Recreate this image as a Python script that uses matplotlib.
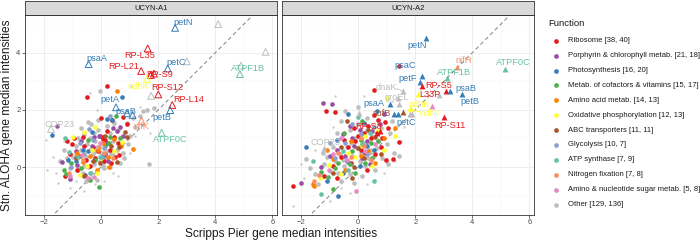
import matplotlib.pyplot as plt
from matplotlib.lines import Line2D

plt.rcParams["font.family"] = ["Liberation Sans", "DejaVu Sans"]

functions = ["Ribosome", "Porphyrin & chlorophyll metab.", "Photosynthesis",
             "Metab. of cofactors & vitamins", "Amino acid metab.",
             "Oxidative phosphorylation", "ABC transporters", "Glycolysis",
             "ATP synthase", "Nitrogen fixation", "Amino & nucleotide sugar metab.",
             "Other"]
counts_a1 = [38, 21, 16, 15, 14, 12, 11, 10, 7, 7, 5, 129]
counts_a2 = [40, 18, 20, 17, 13, 13, 11, 7, 9, 8, 8, 136]
colors = ["#E41A1C", "#984EA3", "#377EB8", "#4DAF4A", "#FF7F00", "#FFFF33",
          "#A65628", "#8DA0CB", "#66C2A5", "#FC8D62", "#E78AC3", "#BEBEBE"]

# ---- UCYN-A1 gene points (x = Scripps Pier, y = Stn. ALOHA) ----
a1_ribosome = [(0.2, 2.83), (-0.49, 2.44), (0.0, 1.70), (-0.94, 1.01), (-1.04, 0.80),
               (-1.28, -0.30), (0.08, 1.04), (0.14, 0.94), (0.44, 1.04), (0.50, 0.35),
               (0.64, 0.42), (0.78, 1.76), (0.37, 1.64), (-0.76, 0.40), (-0.65, 1.04),
               (0.22, 1.27), (-0.38, 0.05), (-0.10, 0.55), (0.05, 0.98), (-0.30, 0.70),
               (-0.55, 0.25), (0.30, 0.60), (-1.10, 0.45), (-0.85, -0.10), (0.10, 0.20),
               (-0.20, 0.30), (0.60, 0.85), (0.92, 1.50), (-0.60, 0.75), (0.35, 0.15),
               (-0.05, 1.10), (-1.2, 0.9)]
a1_porphyrin = [(-1.55, 1.45), (-1.38, 0.16), (-0.08, 1.08), (0.2, 0.85), (0.66, 1.41),
                (-0.85, 0.06), (0.43, 1.38), (-0.33, 0.72), (-0.58, -0.28), (-1.08, -0.42),
                (0.15, 0.45), (-0.9, 0.55), (0.55, 1.25), (-0.25, 1.05), (0.25, 0.2),
                (-0.7, 0.9), (0.75, 1.1)]
a1_photo = [(0.73, 2.46), (-1.72, 1.12), (0.2, 1.68), (0.38, 1.64), (-1.15, 0.24),
            (-0.64, 0.59), (-0.33, 1.24), (-0.48, 0.57), (0.05, 0.40), (-0.9, 0.2)]
a1_cofactors = [(0.52, 1.78), (0.28, 0.83), (-0.09, -0.69), (-0.38, -0.45), (-1.29, -0.10),
                (0.32, 1.05), (-0.2, 0.25), (-1.25, -0.25), (-0.7, -0.05), (0.12, 0.72),
                (-0.45, 0.95), (0.65, 1.0), (-1.05, 0.15)]
a1_amino = [(0.54, 2.67), (1.13, 0.62), (0.26, 0.01), (0.45, 0.99), (-0.64, 0.19),
            (-0.1, 0.6), (0.25, 0.35), (-0.4, 0.4), (-0.85, 0.5), (0.05, 0.85),
            (0.7, 0.75), (-0.15, -0.1)]
a1_oxphos = [(-0.99, 1.06), (-0.21, 1.41), (-0.76, -0.28), (-0.33, 0.59), (0.72, 0.89),
             (-0.15, -0.20), (-0.62, 1.24), (0.0, 0.30), (-0.5, 0.05), (0.45, 0.55)]
a1_abc = [(0.83, 1.24), (0.55, 0.19), (0.61, 0.71), (-0.03, 0.13), (-0.62, -0.31),
          (0.9, 1.05), (-0.28, 0.2), (0.35, 0.75), (-0.9, 0.3), (0.15, 1.1)]
a1_glyco = [(-0.44, 1.32), (0.02, 0.36), (-0.73, 0.83), (0.32, 1.78), (0.1, 0.65),
            (-0.27, 0.95), (-0.6, 0.45), (-1.05, 0.0)]
a1_atp = [(-1.26, 1.0), (-1.14, 0.54), (-0.83, 0.36), (-0.03, 0.36), (-0.4, -0.2)]
a1_nfix = [(-1.14, -0.22), (-0.64, 0.24), (0.1, 0.48), (-0.07, 0.69), (0.4, 0.3)]
a1_sugar = [(-0.48, -0.37), (-1.08, -0.31), (-0.03, 0.85), (-0.67, 0.41), (-0.25, -0.35)]
a1_other = [(-0.03, 2.67), (-0.48, 1.59), (1.68, 0.09), (1.85, 2.05), (1.35, 1.77),
            (1.10, 1.70), (0.9, 1.55), (-0.35, 1.5), (-0.1, 1.3), (0.3, 1.2),
            (-0.6, 1.15), (-0.8, 1.0), (-0.2, 0.9), (0.1, 0.8), (0.4, 0.9),
            (-0.5, 0.8), (-0.4, 0.6), (-0.15, 0.7), (0.2, 0.55), (-0.7, 0.6),
            (-0.3, 0.45), (0.0, 0.5), (-0.05, 0.2), (-0.55, 0.35), (-0.9, 0.75),
            (0.55, 0.6), (0.75, 0.5), (-0.25, 0.1), (-0.45, 0.0), (-0.8, -0.1),
            (-1.0, 0.35), (-1.3, 0.6), (-1.45, 0.2), (-0.35, -0.2), (0.1, -0.05),
            (0.35, 0.45), (0.6, 1.3), (1.0, 1.1), (1.2, 1.4), (0.8, 0.3),
            (-0.65, -0.2), (-1.1, -0.05), (-0.15, -0.45), (-0.55, -0.5), (0.2, 1.45),
            (-0.1, 1.65), (0.45, 1.55), (-0.7, 1.35), (-0.25, 1.2), (0.05, 0.05),
            (-0.9, 0.45), (0.3, 0.0), (-0.4, 1.0), (0.65, 0.15), (-1.2, 0.3),
            (0.15, 0.3), (-0.6, 0.05), (0.95, 0.8), (1.45, 1.95), (1.6, 2.0),
            (-0.2, 0.55)]
a1_small = [(-1.9, -0.1), (-1.95, 0.95), (-1.5, -0.55), (-1.1, -0.75), (-0.6, -0.85),
            (0.6, -0.3), (1.0, 0.5), (1.2, 1.1), (1.5, 1.5), (-0.4, 2.6), (1.35, 2.1),
            (0.85, 1.9), (-1.3, 0.9), (-0.2, -0.6), (-1.7, 0.35), (0.4, -0.2),
            (-0.9, -0.5), (1.7, 1.2), (0.1, -0.5), (-1.6, -0.2), (-0.15, 2.0),
            (1.05, 2.85)]

# highlighted genes: (name, function index, x, y)
a1_genes = [("petN", 2, 2.59, 4.87), ("", 11, 4.10, 5.0), ("", 11, 5.76, 4.03),
            ("RP-L35", 0, 1.63, 4.15), ("psaA", 2, -0.44, 3.6), ("petC", 2, 2.33, 3.45),
            ("", 11, 3.0, 3.7), ("", 11, 4.9, 3.55), ("ATPF1B", 8, 4.86, 3.25),
            ("RP-L21", 0, 1.40, 3.36), ("RP-S9", 0, 1.74, 3.22), ("", 0, 1.85, 3.27),
            ("ndhK", 5, 1.6, 3.08), ("RP-S12", 0, 2.0, 2.54), ("", 11, 1.75, 2.49),
            ("RP-L14", 0, 2.49, 2.17), ("petB", 2, 2.42, 1.99), ("petA", 2, 0.52, 2.09),
            ("psaB", 2, 1.1, 1.82), ("", 2, 0.9, 1.88), ("nifK", 9, 1.41, 1.62),
            ("ATPF0C", 8, 2.12, 1.2), ("COP23", 11, -1.76, 1.33)]

# ---- UCYN-A2 gene points ----
a2_ribosome = [(0.55, 2.69), (1.43, 3.54), (-1.13, 1.96), (-2.27, -0.66), (0.96, 0.24),
               (1.21, 0.27), (1.43, 0.86), (-0.80, 1.93), (0.54, 1.82), (0.71, 1.64),
               (0.94, 1.58), (1.06, 1.38), (0.35, 1.45), (0.2, 1.2), (-0.1, 0.9),
               (-0.35, 0.7), (0.1, 0.6), (0.45, 1.0), (0.65, 1.2), (-0.6, 0.35),
               (-0.9, 0.05), (-0.25, 0.15), (0.25, 0.5), (-1.2, -0.3), (0.8, 0.7),
               (0.3, -0.1), (0.0, 1.1), (-0.5, 0.95), (0.6, 0.45), (-0.15, 1.35),
               (0.85, 1.0), (-0.75, -0.4)]
a2_porphyrin = [(-1.25, 2.25), (-0.92, 2.22), (-0.55, 1.15), (-0.3, 1.45), (0.05, 1.3),
                (0.3, 0.9), (-0.75, 0.6), (-1.0, 0.4), (0.15, 0.3), (-0.45, 0.4),
                (0.5, 1.25), (0.75, 1.5), (-0.15, 0.75), (-1.3, 0.0), (0.4, 0.1),
                (-2.0, -0.55), (-0.2, 1.0), (0.9, 1.85)]
a2_photo = [(-1.83, 0.71), (-0.70, -1.01), (-0.35, 1.85), (0.2, 1.55), (-0.4, 0.2),
            (-1.1, -0.5), (0.55, 0.6), (0.05, 0.05), (-0.75, 0.95), (0.3, 0.75),
            (-0.55, -0.2), (0.65, 1.95)]
a2_cofactors = [(-1.29, -0.19), (-0.87, -0.76), (-0.5, 1.2), (-0.2, 0.55), (0.1, 0.95),
                (0.45, 0.85), (-0.7, 0.15), (-1.05, -0.35), (0.25, 0.15), (-0.3, 0.1),
                (0.7, 0.9), (-0.1, -0.2), (0.5, 0.3), (-0.8, -0.05), (0.15, 1.6)]
a2_amino = [(-1.56, -0.66), (-1.58, -0.58), (-0.9, 0.27), (-0.25, 0.9), (0.35, 0.55),
            (0.9, 1.0), (1.28, 1.35), (-0.45, -0.1), (0.1, 0.4), (0.6, 0.15),
            (-1.1, 0.6)]
a2_oxphos = [(-1.02, 0.07), (1.01, 2.42), (0.7, 1.3), (1.28, 1.1), (-0.35, 0.5),
             (0.05, 0.75), (-1.35, -0.4), (0.25, 1.1), (-0.6, -0.25), (0.5, 0.05),
             (-0.1, 0.35), (0.9, 0.6)]
a2_abc = [(-0.15, 0.0), (0.35, 1.3), (0.0, 0.65), (-0.6, 0.7), (0.6, 1.05),
          (-0.9, -0.2), (0.2, 0.3), (-0.4, 1.6), (0.8, 0.45), (-0.2, -0.4)]
a2_glyco = [(-0.45, 0.85), (0.1, 1.15), (-0.8, 0.3), (0.3, 0.45), (-0.2, 1.5),
            (0.55, 1.4), (-1.0, 0.85)]
a2_atp = [(0.54, -0.49), (-1.29, -0.94), (-0.55, 0.55), (0.15, 0.8), (-0.35, -0.1),
          (0.4, 1.2), (-1.6, 0.2), (0.0, 1.75)]
a2_nfix = [(-1.38, -0.28), (-0.7, 0.5), (0.2, 0.75), (-0.25, 0.35), (0.45, 0.25),
           (-1.55, -0.5), (0.1, 1.0)]
a2_sugar = [(-0.08, -0.85), (-1.04, -0.1), (-0.4, 0.25), (0.25, 0.55), (-0.6, 1.0),
            (0.6, 0.8), (-0.9, 0.45)]
a2_other = [(-1.82, 0.27), (1.43, 0.38), (-0.6, 1.6), (-0.3, 1.3), (0.0, 1.5),
            (0.3, 1.7), (-0.1, 1.0), (0.2, 0.85), (0.4, 0.6), (0.7, 0.9),
            (-0.4, 0.7), (-0.65, 0.45), (-0.2, 0.4), (0.05, 0.2), (-0.5, 0.05),
            (-0.8, 0.2), (-1.0, -0.15), (-1.2, 0.1), (-0.3, -0.25), (0.25, 0.05),
            (0.55, 0.4), (0.85, 0.3), (1.0, 0.8), (-0.9, 0.7), (-1.1, 0.35),
            (-1.5, -0.25), (-1.4, -0.6), (-0.6, -0.5), (0.15, -0.3), (-0.05, 0.65),
            (0.35, 0.3), (-0.25, 0.85), (0.5, 1.1), (0.8, 1.35), (1.1, 1.2),
            (-0.75, 1.2), (-0.45, 1.95), (0.0, 2.1), (1.25, 0.5), (0.6, -0.1),
            (-0.15, -0.55), (-1.25, 0.5), (-0.7, -0.2), (0.9, 1.9), (1.05, 0.1),
            (1.2, 1.6), (-1.7, -0.05), (0.3, 1.3), (-0.35, 0.15), (0.1, 0.5),
            (-0.55, 0.25), (0.65, 0.65)]
a2_small = [(-2.27, -1.35), (-0.8, 2.48), (-1.9, -0.4), (-1.0, -1.2), (-0.3, -0.9),
            (0.3, -0.6), (0.9, -0.2), (1.3, 0.2), (1.6, 1.4), (1.2, 2.3), (0.2, 2.5),
            (-0.9, 1.4), (-1.5, 0.6), (-2.0, 0.1), (0.6, -0.45), (1.5, 0.9),
            (-0.6, -0.75)]

a2_genes = [("petN", 2, 2.37, 4.52), ("nifH", 9, 3.46, 3.49), ("ATPF0C", 8, 5.14, 3.43),
            ("ATPF1B", 8, 3.10, 3.12), ("psaC", 2, 2.25, 3.18), ("petF", 2, 2.18, 2.98),
            ("RP-S5", 0, 2.24, 2.82), ("L33P", 0, 3.07, 2.65), ("petB", 2, 3.2, 2.66),
            ("psaB", 2, 3.64, 2.55), ("", 11, 2.83, 2.51), ("", 5, 2.10, 2.55),
            ("dnaK", 11, 1.57, 2.66), ("groEL", 11, 1.41, 2.40), ("psaA", 2, 1.13, 2.20),
            ("", 11, 1.43, 2.19), ("", 10, 2.59, 2.14), ("ndhK", 5, 1.81, 2.05),
            ("ndhF", 5, 1.85, 2.02), ("RP-S11", 0, 3.0, 1.76), ("petC", 2, 1.41, 1.84),
            ("", 2, 1.26, 1.84), ("sufB", 6, 1.57, 1.91), ("", 11, 0.03, 1.9),
            ("", 11, 1.8, 1.87), ("", 11, 1.9, 1.85), ("RP-S8", 0, 0.65, 1.19),
            ("", 0, 0.75, 1.25), ("COP23", 11, -1.21, 0.65)]

a1_points = [a1_ribosome, a1_porphyrin, a1_photo, a1_cofactors, a1_amino, a1_oxphos,
             a1_abc, a1_glyco, a1_atp, a1_nfix, a1_sugar, a1_other]
a2_points = [a2_ribosome, a2_porphyrin, a2_photo, a2_cofactors, a2_amino, a2_oxphos,
             a2_abc, a2_glyco, a2_atp, a2_nfix, a2_sugar, a2_other]

# label text centres
a1_label_pos = {"petN": (2.88, 5.06), "RP-L35": (1.34, 3.92), "psaA": (-0.15, 3.80),
                "petC": (2.61, 3.67), "ATPF1B": (5.15, 3.45), "RP-L21": (0.80, 3.51),
                "RP-S9": (2.06, 3.24), "ndhK": (1.31, 2.81), "RP-S12": (2.30, 2.77),
                "RP-L14": (3.08, 2.37), "petB": (2.12, 1.74), "petA": (0.31, 2.38),
                "psaB": (0.86, 1.96), "nifK": (1.42, 1.41), "ATPF0C": (2.41, 0.97),
                "COP23": (-1.46, 1.50)}
a2_label_pos = {"petN": (2.06, 4.27), "nifH": (3.69, 3.72), "ATPF0C": (5.44, 3.65),
                "ATPF1B": (3.36, 3.30), "psaC": (1.63, 3.57), "petF": (1.75, 3.10),
                "RP-S5": (2.83, 2.87), "L33P": (2.51, 2.55), "psaB": (3.79, 2.75),
                "petB": (3.93, 2.28), "dnaK": (0.99, 2.79), "groEL": (1.36, 2.43),
                "psaA": (0.55, 2.23), "ndhK": (2.14, 2.20), "ndhF": (2.51, 1.88),
                "sufB": (0.82, 1.88), "petC": (1.69, 1.55), "RP-S11": (3.2, 1.47),
                "RP-S8": (0.35, 1.41), "COP23": (-1.15, 0.86)}
a2_leaders = {"dnaK": (1.34, 2.74), "ndhF": (2.18, 1.92)}

W, H = 700, 241
fig = plt.figure(figsize=(7, 2.41), dpi=100)


def px(x0, y0, x1, y1):
    return [x0 / W, 1 - y1 / H, (x1 - x0) / W, (y1 - y0) / H]


def panel(left, right, title, points, small, genes, label_pos, leaders, filled, yticks):
    ax = fig.add_axes(px(left, 15, right, 215))
    ax.set_xlim(-2.67, 6.16)
    ax.set_ylim(-1.68, 5.32)
    ax.set_xticks([-2, 0, 2, 4, 6])
    ax.set_yticks([0, 2, 4])
    ax.set_xticks([-1, 1, 3, 5], minor=True)
    ax.set_yticks([-1, 1, 3, 5], minor=True)
    ax.grid(which="major", color="#EBEBEB", lw=0.6, zorder=0)
    ax.grid(which="minor", color="#F4F4F4", lw=0.35, zorder=0)
    ax.set_axisbelow(True)
    ax.tick_params(which="major", length=2, width=0.5, color="#333333",
                   labelsize=5.5, labelcolor="#4D4D4D", pad=1.2)
    ax.tick_params(which="minor", length=0)
    if not yticks:
        ax.tick_params(axis="y", which="major", length=0, labelleft=False)
    for s in ax.spines.values():
        s.set_color("#333333")
        s.set_linewidth(0.6)

    ax.plot([-3, 7], [-3, 7], ls=(0, (4, 3)), color="#808080", lw=0.7, zorder=1)

    ax.scatter([p[0] for p in small], [p[1] for p in small], s=3, color="#BEBEBE",
               alpha=0.8, linewidths=0, zorder=2)
    order = [11] + list(range(11))
    for i in order:
        pts = points[i]
        ax.scatter([p[0] for p in pts], [p[1] for p in pts], s=11, color=colors[i],
                   linewidths=0, zorder=3)

    for name, fi, x, y in genes:
        if filled:
            ax.scatter([x], [y], marker="^", s=18, color=colors[fi], linewidths=0, zorder=4)
        else:
            ax.scatter([x], [y], marker="^", s=24, facecolors="none",
                       edgecolors=colors[fi], linewidths=0.7, zorder=4)
        if name in label_pos:
            lx, ly = label_pos[name]
            ax.text(lx, ly, name, fontsize=6.6, color=colors[fi], ha="center",
                    va="center", zorder=5)
            if name in leaders:
                sx, sy = leaders[name]
                ax.plot([sx, x], [sy, y], color=colors[fi], lw=0.6, zorder=4)

    st = fig.add_axes(px(left, 1, right, 15))
    st.set_facecolor("#D9D9D9")
    st.set_xticks([])
    st.set_yticks([])
    for s in st.spines.values():
        s.set_color("#333333")
        s.set_linewidth(0.6)
    st.text(0.5, 0.5, title, fontsize=5.5, color="#1A1A1A", ha="center", va="center",
            transform=st.transAxes)
    return ax


panel(25, 277, "UCYN-A1", a1_points, a1_small, a1_genes, a1_label_pos, {}, False, True)
panel(282, 534, "UCYN-A2", a2_points, a2_small, a2_genes, a2_label_pos, a2_leaders,
      True, False)

fig.text(7 / W, 1 - 115 / H, "Stn. ALOHA gene median intensities", rotation=90,
         fontsize=8.6, color="#1A1A1A", ha="center", va="center")
fig.text(281 / W, 1 - 234 / H, "Scripps Pier gene median intensities", fontsize=8.6,
         color="#1A1A1A", ha="center", va="center")

# legend
fig.text(548 / W, 1 - 24 / H, "Function", fontsize=6.8, color="#1A1A1A",
         ha="left", va="center")
for i, name in enumerate(functions):
    yy = 1 - (40.7 + i * 14.9) / H
    fig.add_artist(Line2D([556 / W], [yy], marker="o", markersize=3.4, color=colors[i],
                          markeredgewidth=0, transform=fig.transFigure))
    fig.text(568 / W, yy, f"{name} [{counts_a1[i]}, {counts_a2[i]}]", fontsize=5.5,
             color="#1A1A1A", ha="left", va="center")

fig.savefig("out.png", dpi=100)
